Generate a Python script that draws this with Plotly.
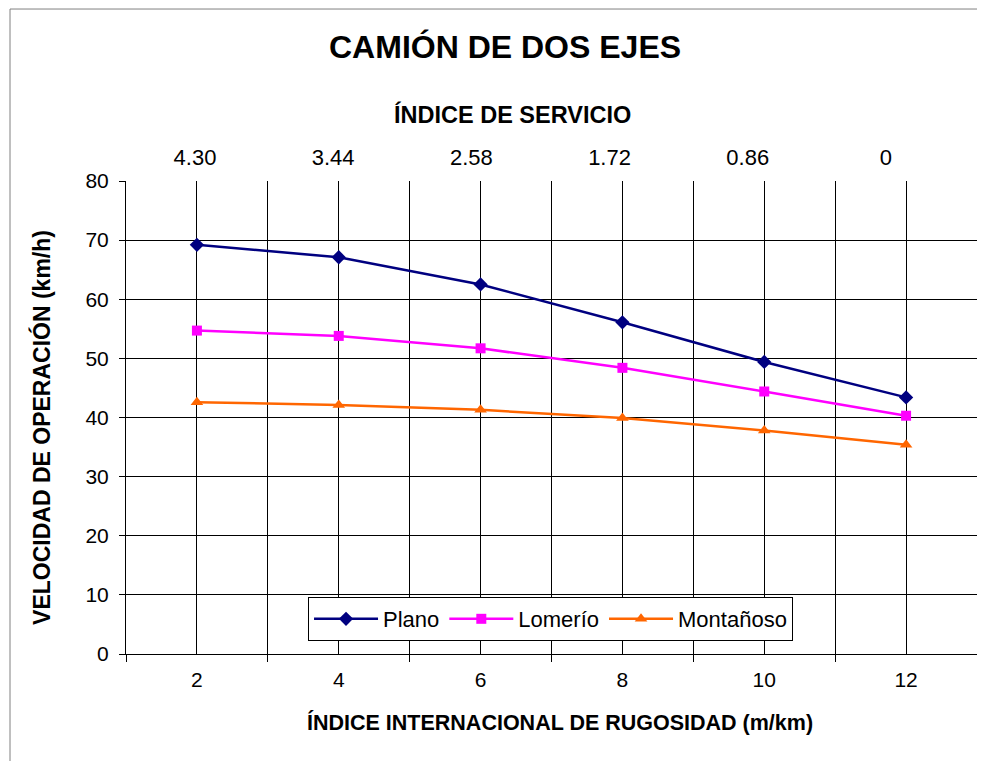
import plotly.graph_objects as go

# Data
iri = [2, 4, 6, 8, 10, 12]
plano = [69.2, 67.1, 62.5, 56.1, 49.4, 43.4]
lomerio = [54.7, 53.8, 51.7, 48.4, 44.4, 40.3]
montanoso = [42.6, 42.1, 41.3, 39.9, 37.8, 35.4]
servicio_labels = ["4.30", "3.44", "2.58", "1.72", "0.86", "0"]
servicio_pos = [0, 1, 2, 3, 4, 5]
y_ticks = [0, 10, 20, 30, 40, 50, 60, 70, 80]

FONT = "Liberation Sans, Arial, sans-serif"

fig = go.Figure()
fig.add_trace(go.Scatter(x=iri, y=plano, name="Plano", mode="lines+markers",
                         line=dict(color="#000080", width=2.5),
                         marker=dict(symbol="diamond", size=11, color="#000080")))
fig.add_trace(go.Scatter(x=iri, y=lomerio, name="Lomerío", mode="lines+markers",
                         line=dict(color="#FF00FF", width=2.5),
                         marker=dict(symbol="square", size=10, color="#FF00FF")))
fig.add_trace(go.Scatter(x=iri, y=montanoso, name="Montañoso", mode="lines+markers",
                         line=dict(color="#FF6600", width=2.5),
                         marker=dict(symbol="triangle-up", size=11, color="#FF6600")))
# carrier for the secondary (top) axis: service index labels
fig.add_trace(go.Scatter(x=servicio_pos, y=[None] * len(servicio_pos), xaxis="x2",
                         mode="markers", showlegend=False, hoverinfo="skip"))

fig.update_layout(
    width=977, height=753,
    margin=dict(l=118, r=8, t=173, b=107),
    paper_bgcolor="white", plot_bgcolor="white",
    font=dict(family=FONT, size=21, color="black"),
    showlegend=True,
    legend=dict(orientation="h", x=0.2139, y=0.1205, xanchor="left", yanchor="top",
                bgcolor="white", bordercolor="black", borderwidth=1,
                font=dict(size=22, family=FONT), itemwidth=64),
    xaxis=dict(range=[1, 13], tickvals=iri, ticktext=[str(v) for v in iri],
               ticks="", showgrid=True, gridcolor="black", gridwidth=1,
               showline=True, linecolor="black", linewidth=1, zeroline=False,
               tickfont=dict(size=21), ticklabelstandoff=7,
               minor=dict(tickvals=[1, 3, 5, 7, 9, 11, 13], ticks="outside", ticklen=7,
                          tickcolor="black", showgrid=True, gridcolor="black", gridwidth=1)),
    xaxis2=dict(range=[-0.499, 5.659], overlaying="x", side="top", anchor="y",
                tickvals=servicio_pos, ticktext=servicio_labels, ticks="",
                showgrid=False, showline=False, zeroline=False,
                tickfont=dict(size=22), ticklabelstandoff=11),
    yaxis=dict(range=[0, 80], tickvals=y_ticks, ticks="outside", ticklen=6,
               tickcolor="black", showgrid=True, gridcolor="black", gridwidth=1,
               showline=True, linecolor="black", linewidth=1, zeroline=False,
               tickfont=dict(size=21), ticklabelstandoff=6),
    annotations=[
        dict(text="<b>CAMIÓN DE DOS EJES</b>", xref="paper", yref="paper",
             x=0.4454, y=1.283, xanchor="center", yanchor="middle",
             showarrow=False, font=dict(size=32, family=FONT)),
        dict(text="<b>ÍNDICE DE SERVICIO</b>", xref="paper", yref="paper",
             x=0.454, y=1.1416, xanchor="center", yanchor="middle",
             showarrow=False, font=dict(size=23.5, family=FONT)),
        dict(text="<b>ÍNDICE INTERNACIONAL DE RUGOSIDAD (m/km)</b>", xref="paper", yref="paper",
             x=0.51, y=-0.1438, xanchor="center", yanchor="middle",
             showarrow=False, font=dict(size=21.5, family=FONT)),
        dict(text="<b>VELOCIDAD DE OPERACIÓN (km/h)</b>", xref="paper", yref="paper",
             x=-0.0987, y=0.478, xanchor="center", yanchor="middle", textangle=-90,
             showarrow=False, font=dict(size=23, family=FONT)),
    ],
    shapes=[dict(type="rect", xref="paper", yref="paper", x0=-0.1363, y0=-0.5,
                 x1=1.3, y1=1.3636, line=dict(color="#808080", width=1),
                 fillcolor="rgba(0,0,0,0)", layer="below")],
)

fig.write_html("out.html")
